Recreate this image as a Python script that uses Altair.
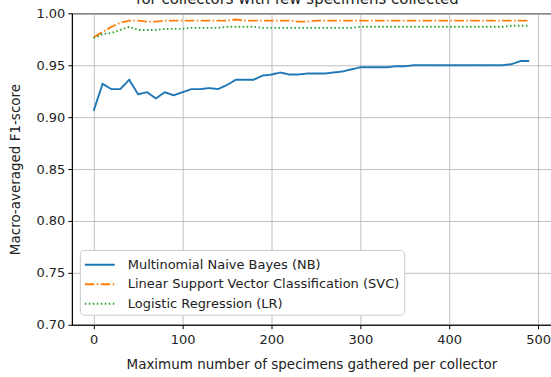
import altair as alt
import pandas as pd

x_vals = list(range(0, 500, 10))

nb = [0.906, 0.932, 0.927, 0.927, 0.936, 0.922, 0.924, 0.918, 0.924, 0.921,
      0.924, 0.927, 0.927, 0.928, 0.927, 0.931, 0.936, 0.936, 0.936, 0.940,
      0.941, 0.943, 0.941, 0.941, 0.942, 0.942, 0.942, 0.943, 0.944, 0.946,
      0.948, 0.948, 0.948, 0.948, 0.949, 0.949, 0.950, 0.950, 0.950, 0.950,
      0.950, 0.950, 0.950, 0.950, 0.950, 0.950, 0.950, 0.951, 0.954, 0.954]

svc = [0.977, 0.982, 0.987, 0.991, 0.993, 0.993, 0.992, 0.992, 0.993, 0.993,
       0.993, 0.993, 0.993, 0.993, 0.993, 0.993, 0.994, 0.993, 0.993, 0.993,
       0.993, 0.993, 0.993, 0.992, 0.992, 0.993, 0.993, 0.993, 0.993, 0.993,
       0.993, 0.993, 0.993, 0.993, 0.993, 0.993, 0.993, 0.993, 0.993, 0.993,
       0.993, 0.993, 0.993, 0.993, 0.993, 0.993, 0.993, 0.993, 0.993, 0.993]

lr = [0.976, 0.980, 0.981, 0.984, 0.987, 0.984, 0.984, 0.984, 0.985, 0.985,
      0.985, 0.986, 0.986, 0.986, 0.986, 0.987, 0.987, 0.987, 0.987, 0.986,
      0.986, 0.986, 0.986, 0.986, 0.986, 0.986, 0.986, 0.986, 0.986, 0.986,
      0.987, 0.987, 0.987, 0.987, 0.987, 0.987, 0.987, 0.987, 0.987, 0.987,
      0.987, 0.987, 0.987, 0.987, 0.987, 0.987, 0.987, 0.988, 0.988, 0.988]

models = ["Multinomial Naive Bayes (NB)",
          "Linear Support Vector Classification (SVC)",
          "Logistic Regression (LR)"]
colors = ["#1f77b4", "#ff7f0e", "#2ca02c"]
dashes = [[1, 0], [9.6, 2.4, 1.5, 2.4], [1.5, 2.5]]

x_ticks = [0, 100, 200, 300, 400, 500]
y_ticks = [0.70, 0.75, 0.80, 0.85, 0.90, 0.95, 1.00]

rows = []
for name, series in zip(models, [nb, svc, lr]):
    for xv, yv in zip(x_vals, series):
        rows.append({"x": xv, "score": yv, "model": name})
df = pd.DataFrame(rows)

FONT = "DejaVu Sans"
TEXT = "#222222"

chart = alt.Chart(df).mark_line(strokeWidth=1.9).encode(
    x=alt.X("x:Q",
            scale=alt.Scale(domain=[-24.5, 514.5], nice=False, zero=False),
            axis=alt.Axis(values=x_ticks, title="Maximum number of specimens gathered per collector",
                          format="d")),
    y=alt.Y("score:Q",
            scale=alt.Scale(domain=[0.70, 1.00], nice=False, zero=False),
            axis=alt.Axis(values=y_ticks, title="Macro-averaged F1-score", format=".2f")),
    color=alt.Color("model:N", sort=models,
                    scale=alt.Scale(domain=models, range=colors),
                    legend=alt.Legend(title=None, orient="none", legendX=8, legendY=237,
                                      symbolType="M-1,0H2", symbolSize=400, symbolStrokeWidth=2,
                                      labelFontSize=13, labelFont=FONT, labelLimit=500,
                                      labelColor=TEXT,
                                      fillColor="white", strokeColor="#cccccc", cornerRadius=4,
                                      padding=4, rowPadding=1.5, labelOffset=22)),
    strokeDash=alt.StrokeDash("model:N", sort=models,
                              scale=alt.Scale(domain=models, range=dashes),
                              legend=None),
    order=alt.Order("x:Q"),
).properties(
    width=480,
    height=312,
    padding={"left": 72, "top": 13, "right": 0, "bottom": 52},
    autosize=alt.AutoSizeParams(type="none"),
    title=alt.TitleParams(text="for collectors with few specimens collected", fontSize=15,
                          font=FONT, fontWeight="normal", offset=0, dx=-14, color=TEXT),
).configure_view(
    stroke="black", strokeWidth=1
).configure_axis(
    labelFont=FONT, titleFont=FONT, labelFontSize=13, titleFontSize=13.5,
    titleFontWeight="normal", labelColor=TEXT, titleColor=TEXT,
    grid=True, gridColor="#b0b0b0", gridWidth=0.8,
    domainColor="black", tickColor="black", tickSize=4,
).configure_axisX(
    titlePadding=11, labelPadding=5
).configure_axisY(
    titlePadding=14, labelPadding=3
)

chart.save("out.html", embed_options={"renderer": "svg", "actions": False})
